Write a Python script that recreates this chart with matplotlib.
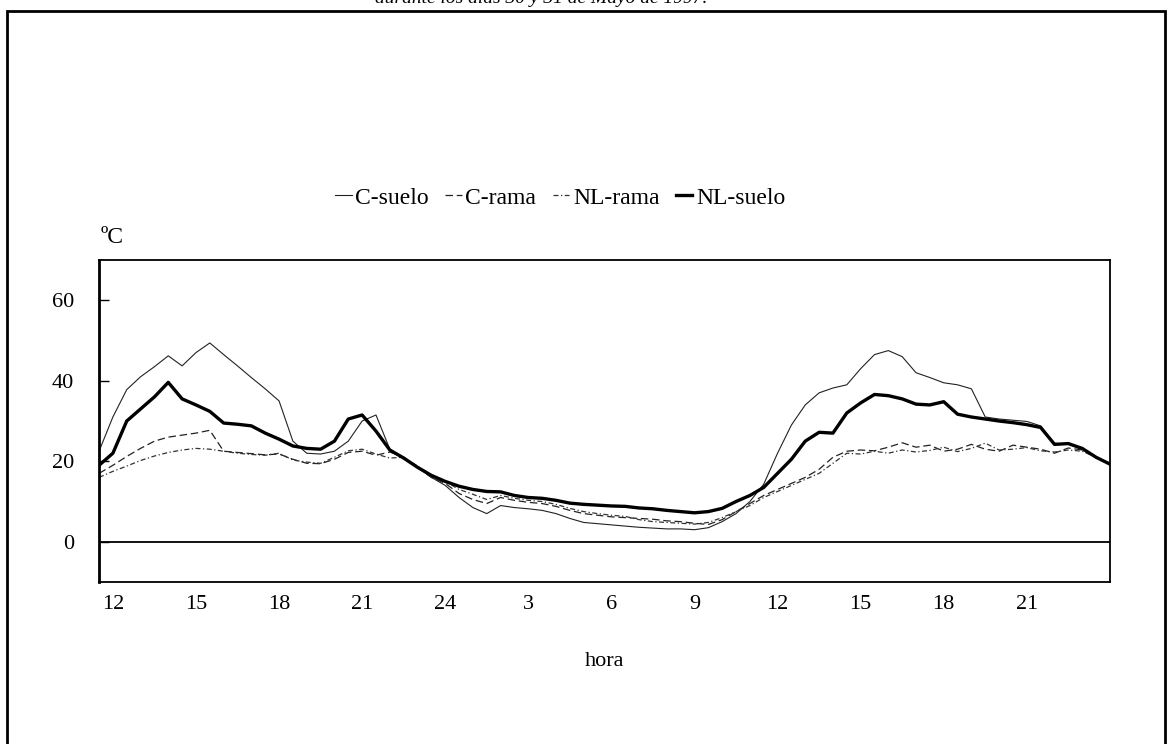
import matplotlib
matplotlib.use("Agg")
import matplotlib.pyplot as plt
from matplotlib.patches import Rectangle
import numpy as np

plt.rcParams['font.family'] = ['Liberation Serif', 'DejaVu Serif']

# hours from 11:30 of day 1 to 24:00 of day 2, every half hour
hours = np.arange(11.5, 48.01, 0.5)

c_suelo = [22.5, 31, 37.8, 41, 43.5, 46.2, 43.7, 47, 49.4, 46.5,
           43.7, 40.8, 38, 35, 25, 22, 21.8, 22.5, 25, 30,
           31.5, 23, 21, 18.5, 16, 14, 11, 8.5, 7, 9,
           8.5, 8.2, 7.8, 7, 5.8, 4.8, 4.5, 4.2, 3.9, 3.6,
           3.4, 3.2, 3.2, 3.0, 3.5, 5, 7, 10, 14.3, 22,
           29, 34, 37, 38.2, 39, 43, 46.5, 47.5, 46, 42,
           40.8, 39.5, 39, 38, 31, 30.5, 30.2, 29.9, 28.8, 24.5,
           24.2, 23, 21, 19.5]

c_rama = [17, 19, 21.2, 23.2, 25, 26, 26.5, 27, 27.7, 22.5,
          22.2, 21.9, 21.6, 21.8, 20.5, 19.5, 19.4, 20.5, 22.2, 22.5,
          21.5, 22.3, 21, 18.5, 16, 14.5, 12, 10.5, 9.5, 11,
          10.3, 9.8, 9.5, 8.8, 7.8, 7, 6.6, 6.2, 6, 5.8,
          5.6, 5.2, 5, 4.6, 4.3, 5.5, 7.5, 9.5, 11.5, 13,
          14.5, 16, 18, 21, 22.5, 22.8, 22.6, 23.5, 24.6, 23.5,
          24, 22.5, 23, 24.2, 23, 22.5, 24, 23.5, 23, 22,
          23.3, 22.8, 21, 19.5]

nl_rama = [16, 17.5, 18.8, 20.2, 21.3, 22.2, 22.8, 23.2, 23.0, 22.5,
           22.0, 21.7, 21.5, 22.0, 20.3, 19.8, 19.5, 21, 22.6, 23,
           21.8, 20.8, 21, 18.8, 16.5, 15, 13, 11.8, 10.5, 11.5,
           10.8, 10.3, 10, 9.3, 8.3, 7.5, 7.0, 6.6, 6.3, 5.5,
           5.0, 4.8, 4.6, 4.4, 4.8, 6.0, 7.5, 9, 11, 12.5,
           14, 15.5, 17, 19.5, 22, 21.8, 22.5, 22, 22.8, 22.3,
           22.7, 23.5, 22.4, 23.2, 24.5, 22.8, 23, 23.4, 22.6, 22.3,
           22.8, 22.5, 21, 19.4]

nl_suelo = [19, 22, 30, 33, 36, 39.6, 35.5, 34, 32.4, 29.5,
            29.2, 28.8, 27, 25.5, 23.8, 23.2, 23, 25, 30.5, 31.5,
            27.5, 22.8, 20.8, 18.5, 16.5, 15, 13.8, 13, 12.5, 12.4,
            11.5, 11, 10.8, 10.3, 9.6, 9.3, 9.1, 8.9, 8.8, 8.4,
            8.2, 7.8, 7.5, 7.2, 7.5, 8.3, 10, 11.5, 13.5, 17,
            20.5, 25, 27.2, 27, 32, 34.5, 36.6, 36.3, 35.5, 34.2,
            34.0, 34.8, 31.7, 31, 30.5, 30, 29.6, 29.1, 28.4, 24.2,
            24.4, 23.2, 21, 19.3]

tick_pos = [12, 15, 18, 21, 24, 27, 30, 33, 36, 39, 42, 45]
tick_lab = ["12", "15", "18", "21", "24", "3", "6", "9", "12", "15", "18", "21"]

fig = plt.figure(figsize=(11.72, 7.44), dpi=100)
ax = fig.add_axes([0.0845, 0.2177, 0.8625, 0.4328])

ax.plot(hours, c_suelo, color='#222222', lw=0.8, label='C-suelo')
ax.plot(hours, c_rama, color='#222222', lw=0.9, ls=(0, (6, 3)), label='C-rama')
ax.plot(hours, nl_rama, color='#333333', lw=0.9, ls=(0, (4, 2, 1, 2)), label='NL-rama')
ax.plot(hours, nl_suelo, color='black', lw=2.4, label='NL-suelo')
ax.axhline(0, color='black', lw=1.3)

ax.set_xlim(11.5, 48)
ax.set_ylim(-10, 70)
ax.set_yticks([0, 20, 40, 60])
ax.tick_params(axis='y', direction='in', length=7, width=1, labelsize=16, pad=18)
ax.set_xticks(tick_pos)
ax.set_xticklabels(tick_lab)
ax.tick_params(axis='x', length=0, labelsize=16, pad=9)
for s in ax.spines.values():
    s.set_linewidth(1.3)
ax.spines['left'].set_linewidth(2)

ax.set_xlabel('hora', fontsize=16, labelpad=28)
fig.text(0.086, 0.667, 'ºC', fontsize=17, ha='left', va='bottom')

fig.legend(loc='center', bbox_to_anchor=(0.478, 0.734), ncol=4, frameon=False,
           fontsize=17, handlelength=0.7, handletextpad=0.15, columnspacing=0.7)

fig.text(0.462, 0.996, 'durante los días 30 y 31 de Mayo de 1997.', fontsize=14,
         style='italic', ha='center', va='baseline')
fig.patches.append(Rectangle((0.006, -0.02), 0.988, 1.005, transform=fig.transFigure,
                             fill=False, lw=2, ec='black'))

fig.savefig('out.png', dpi=100)
